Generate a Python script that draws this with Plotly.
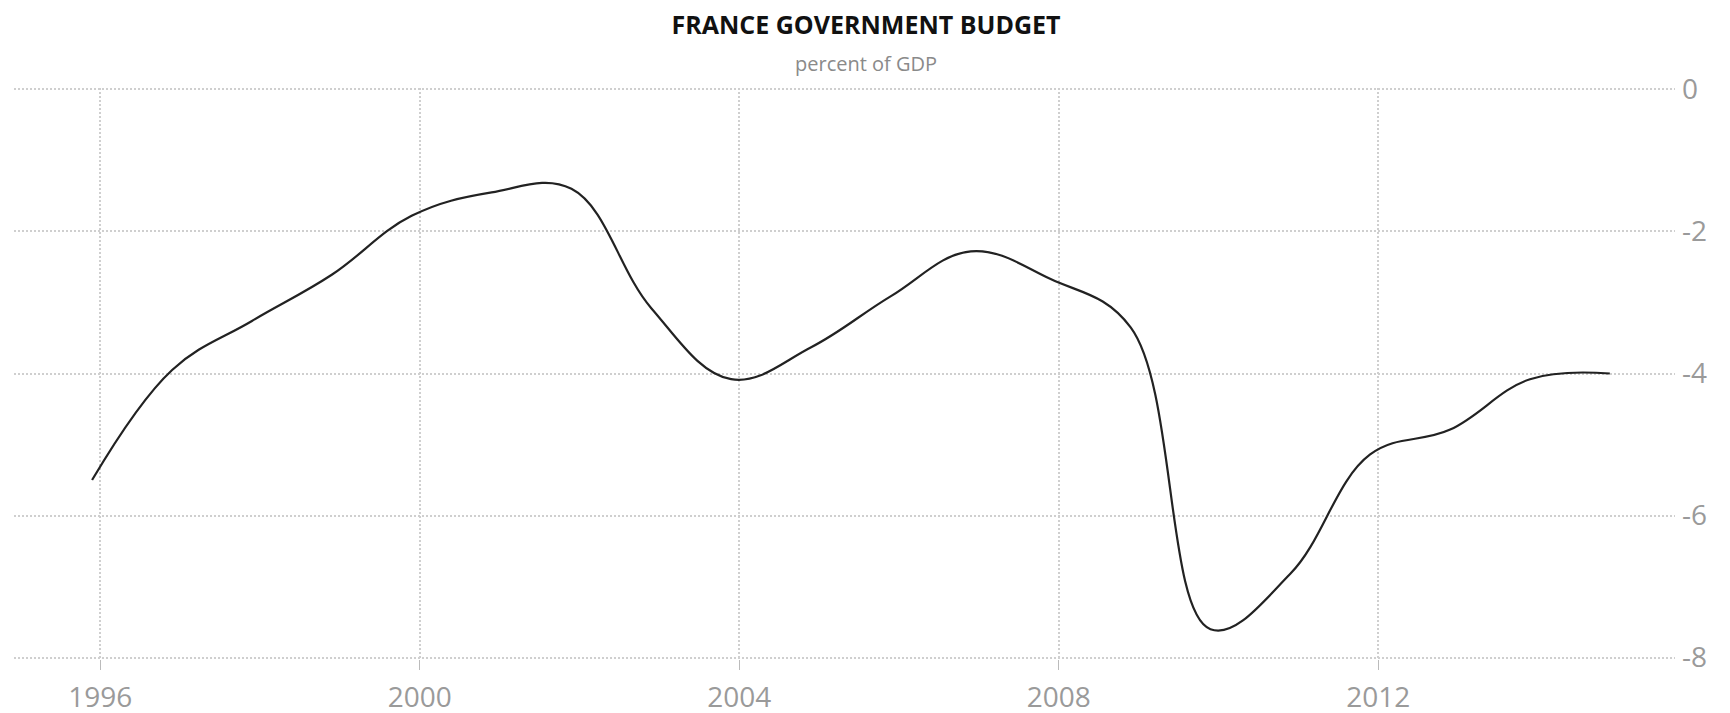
import plotly.graph_objects as go

# ---- data ----
years = [1995, 1996, 1997, 1998, 1999, 2000, 2001, 2002, 2003, 2004,
         2005, 2006, 2007, 2008, 2009, 2010, 2011, 2012, 2013, 2014]
budget_pct_gdp = [-5.50, -3.95, -3.26, -2.61, -1.78, -1.45, -1.40, -3.08, -4.08, -3.63,
                  -2.91, -2.28, -2.67, -3.35, -7.60, -6.82, -5.14, -4.79, -4.08, -4.00]
point_day = "11-25"          # observations sit just before each year end on the axis
x_tick_start = "1996-01-01"
x_range = ["1994-12-03", "2015-09-19"]
y_tick_vals = [0, -2, -4, -6, -8]
y_tick_text = ["0", "-2", "-4", "-6", "-8"]

title_text = "FRANCE GOVERNMENT BUDGET"
subtitle_text = "percent of GDP"

dates = [f"{y}-{point_day}" for y in years]

W, H = 1730, 713
L, R, T, B = 6, 63, 80, 42
plot_w = W - L - R
plot_h = H - T - B

fig = go.Figure()
fig.add_trace(go.Scatter(
    x=dates, y=budget_pct_gdp, mode="lines",
    line=dict(color="#222222", width=2.2, shape="spline", smoothing=1.1),
    hoverinfo="x+y", showlegend=False,
))

grid_col = "#cfcfcf"
tick_font = dict(family="Open Sans, sans-serif", size=28, color="#9a9a9a")

title_cx = 858
fig.update_layout(
    width=W, height=H,
    paper_bgcolor="white", plot_bgcolor="white",
    margin=dict(l=L, r=R, t=T, b=B),
    title=dict(text=f"<b>{title_text}</b>", x=title_cx / W, xanchor="center",
               y=1 - 8 / H, yanchor="top",
               font=dict(family="Open Sans, sans-serif", size=25, color="#111111")),
    annotations=[dict(text=subtitle_text, xref="paper", yref="paper",
                      x=(title_cx - L) / plot_w, y=(H - B - 54.5) / plot_h,
                      xanchor="center", yanchor="middle", showarrow=False,
                      font=dict(family="Open Sans, sans-serif", size=20, color="#8a8a8a"))],
    xaxis=dict(type="date", range=x_range, tick0=x_tick_start, dtick="M48",
               tickformat="%Y", showgrid=True, gridcolor=grid_col, gridwidth=2,
               griddash="2px,2px", ticks="outside", ticklen=10, tickwidth=1,
               tickcolor="#bbbbbb", tickfont=tick_font, ticklabelstandoff=3,
               showline=False, zeroline=False),
    yaxis=dict(range=[-8.02, 0.02], side="right", tickvals=y_tick_vals, ticktext=y_tick_text,
               showgrid=True, gridcolor=grid_col, gridwidth=2, griddash="2px,2px",
               zeroline=False, showline=False, ticks="", ticklabelstandoff=6,
               tickfont=tick_font),
)

fig.write_html("out.html")
